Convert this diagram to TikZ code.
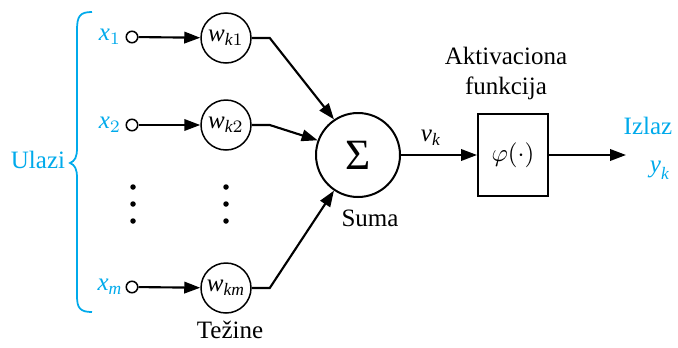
\documentclass[tikz,border=0pt]{standalone}
\usepackage{amsmath}
\usepackage{fontspec}
\setmainfont{Liberation Serif}
\usetikzlibrary{arrows.meta}
\definecolor{ulazblue}{RGB}{0,170,235}
\newcommand{\ti}[1]{\textit{#1}}

\begin{document}
\begin{tikzpicture}[x=0.4pt,y=-0.4pt,>={Triangle[length=6.4pt,width=4.6pt]},line width=0.85pt,
  tez/.style={circle,draw,line width=0.6pt,minimum size=20pt,inner sep=0pt},
  ulaz/.style={circle,draw,line width=0.6pt,minimum size=4.6pt,inner sep=0pt},
  lbl/.style={text=ulazblue}]
\useasboundingbox (0,0) rectangle (678,347);

% ulazi
\node[ulaz] (u1) at (132,37) {};
\node[ulaz] (u2) at (132,125) {};
\node[ulaz] (um) at (132,287) {};
\node[lbl] (x1) at (110,37) {$\ti{x}_1$};
\node[lbl] (x2) at (110,125) {$\ti{x}_2$};
\node[lbl] (xm) at (110,287) {$\ti{x}_{\ti{m}}$};

% tezine
\node[tez] (wk1) at (226,38) {$\ti{w}_{\ti{k}1}$};
\node[tez] (wk2) at (226,125) {$\ti{w}_{\ti{k}2}$};
\node[tez] (wkm) at (226,288) {$\ti{w}_{\ti{km}}$};
\node (tezine) at (230,330) {Težine};

\foreach \y in {187,204,221} {
  \fill (133,\y) circle (1.1pt);
  \fill (226,\y) circle (1.1pt);
}

% suma i aktivacija
\node[circle,draw,line width=0.8pt,minimum size=33.6pt,inner sep=0pt] (sum) at (358,155) {\LARGE Σ};
\node (suma) at (370,218) {Suma};
\node[draw,line width=0.8pt,minimum width=28pt,minimum height=33pt] (phi) at (513,155) {$\varphi(\cdot)$};
\node[align=center] (akt) at (506,73) {Aktivaciona\\funkcija};
\node (vk) at (431,138) {$\ti{v}_{\ti{k}}$};

% izlaz
\coordinate (izl) at (626,155);
\node[lbl] (izlaz) at (648,126) {Izlaz};
\node[lbl] (yk) at (660,170) {$\ti{y}_{\ti{k}}$};

\draw[->] (u1) -- (wk1);
\draw[->] (u2) -- (wk2);
\draw[->] (um) -- (wkm);

\draw[->] (wk1.east) -- ++(18,0) -- (sum.124);
\draw[->] (wk2.east) -- ++(18,0) -- (sum.160);
\draw[->] (wkm.east) -- ++(18,0) -- (sum.236);

\draw[->] (sum) -- (phi);
\draw[->] (phi) -- (izl);

% zagrada
\node[lbl] (ulazi) at (38,160) {Ulazi};
\draw[ulazblue,line width=0.7pt] (92,12) .. controls (80,12) and (77,16) .. (77,30) -- (77,148)
  .. controls (77,157) and (75,161) .. (70,163) .. controls (75,165) and (77,169) .. (77,178)
  -- (77,296) .. controls (77,308) and (80,312) .. (92,312);

\end{tikzpicture}
\end{document}
